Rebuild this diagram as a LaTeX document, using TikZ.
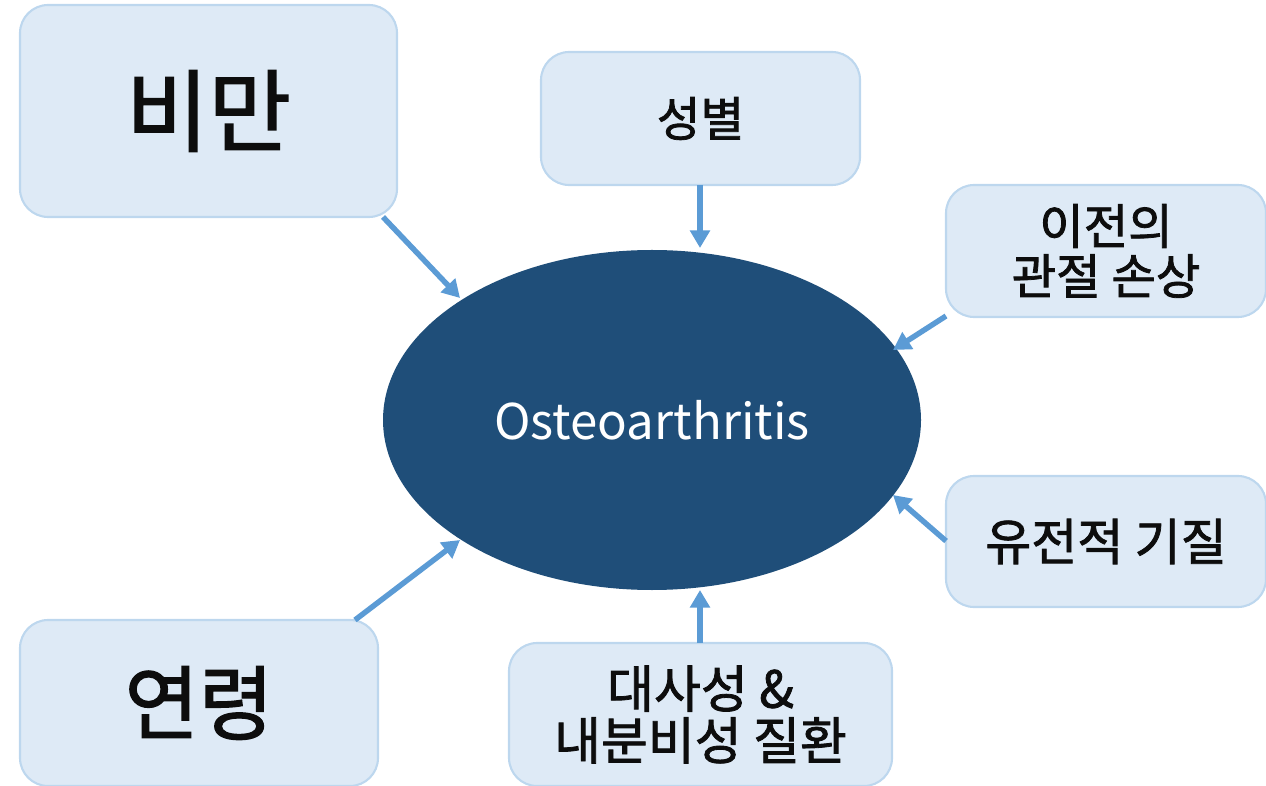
\documentclass[tikz,border=0pt]{standalone}
\usepackage{fontspec}
\setmainfont{Noto Sans CJK KR}
\newfontfamily\kor[FakeBold=1.6]{Noto Sans CJK KR}
\usetikzlibrary{arrows.meta,shapes.geometric}
\definecolor{boxfill}{HTML}{DEEAF6}
\definecolor{boxline}{HTML}{BDD7EE}
\definecolor{arrowc}{HTML}{5B9BD5}
\definecolor{ellc}{HTML}{1F4E79}
\tikzset{
  factor/.style={draw=boxline, fill=boxfill, line width=1.2pt, rounded corners=16pt, inner sep=0pt, align=center, text=black!95},
  link/.style={draw=arrowc, line width=3.1pt, -{Triangle[length=10pt,width=11pt]}},
}
\begin{document}
\begin{tikzpicture}[x=0.02cm,y=-0.02cm]
\useasboundingbox (0,0) rectangle (1266,786);
\node[ellipse, fill=ellc, minimum width=538*0.02cm, minimum height=340*0.02cm, inner sep=0pt, text=white, font=\fontsize{28}{32}\selectfont] (oa) at (652,420) {Osteoarthritis};
\node[factor, minimum width=377*0.02cm, minimum height=212*0.02cm, font=\kor\fontsize{51}{56}\selectfont] (b1) at (208.5,111) {비만};
\node[factor, minimum width=319*0.02cm, minimum height=133*0.02cm, font=\kor\fontsize{27}{30}\selectfont] (b2) at (700.5,118.5) {성별};
\node[factor, minimum width=320*0.02cm, minimum height=132*0.02cm, font=\kor\fontsize{27.5}{28.5}\selectfont] (b3) at (1106,251) {이전의\\관절 손상};
\node[factor, minimum width=320*0.02cm, minimum height=131*0.02cm, font=\kor\fontsize{28.5}{30}\selectfont] (b4) at (1106,541.5) {유전적 기질};
\node[factor, minimum width=383*0.02cm, minimum height=143*0.02cm, font=\kor\fontsize{29}{29.5}\selectfont] (b5) at (700.5,714.5) {대사성 \&\\내분비성 질환};
\node[factor, minimum width=358*0.02cm, minimum height=166*0.02cm, font=\kor\fontsize{46}{56}\selectfont] (b6) at (199,703) {연령};
\coordinate (s1) at (383,217); \coordinate (e1) at (460,298);
\coordinate (s2) at (700,185); \coordinate (e2) at (700,248);
\coordinate (s3) at (946,316); \coordinate (e3) at (893,350);
\coordinate (s4) at (946,541); \coordinate (e4) at (893,495);
\coordinate (s5) at (700,643); \coordinate (e5) at (700,590);
\coordinate (s6) at (355,620); \coordinate (e6) at (460,540);
\draw[link] (s1) -- (e1);
\draw[link] (s2) -- (e2);
\draw[link] (s3) -- (e3);
\draw[link] (s4) -- (e4);
\draw[link] (s5) -- (e5);
\draw[link] (s6) -- (e6);
\end{tikzpicture}
\end{document}
